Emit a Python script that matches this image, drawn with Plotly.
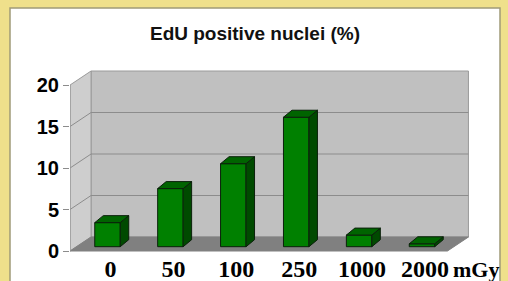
import plotly.graph_objects as go

# ---- data ----
categories = ["0", "50", "100", "250", "1000", "2000"]
edu_positive = [2.9, 7.0, 10.0, 15.6, 1.4, 0.35]
y_ticks = [0, 5, 10, 15, 20]
unit_label = "mGy"
title_text = "EdU positive nuclei (%)"

# ---- geometry / style (pixel calibration) ----
W, H = 508, 281
L, R, T, B = 70, 470, 68, 253          # plot area in px
PX0, PXU = 107.5, 62.9                   # px of category 0, px per category
PY0, PYU = 246.7, 8.3                    # px of value 0 (bar plane), px per unit
x_range = [(L - PX0) / PXU, (R - PX0) / PXU]
y_range = [-(B - PY0) / PYU, (PY0 - T) / PYU]

# plane offsets (in data units) relative to the bar plane
FX, FY = -6 / PXU, -4.3 / PYU            # front plane
BX, BY = 15 / PXU, 9.7 / PYU             # back plane
DX, DY = 8.5 / PXU, 7.0 / PYU            # bar depth
BW = 0.405                               # bar width
XL, XR = -0.5, len(categories) - 0.5
YMAX = y_ticks[-1]

idx = list(range(len(categories)))

fig = go.Figure()

# bar front faces
fig.add_trace(go.Bar(x=idx, y=edu_positive, width=BW,
                     marker=dict(color="#008000", line=dict(color="#0b200b", width=1)),
                     hoverinfo="skip"))

# bar top & side faces derived from the data
top_x, top_y, side_x, side_y = [], [], [], []
for i, v in zip(idx, edu_positive):
    x0, x1 = i - BW / 2, i + BW / 2
    top_x += [x0, x1, x1 + DX, x0 + DX, x0, None]
    top_y += [v, v, v + DY, v + DY, v, None]
    side_x += [x1, x1 + DX, x1 + DX, x1, x1, None]
    side_y += [0, DY, v + DY, v, 0, None]
fig.add_trace(go.Scatter(x=side_x, y=side_y, mode="lines", fill="toself",
                         fillcolor="#004a00", line=dict(color="#0b200b", width=1),
                         hoverinfo="skip"))
fig.add_trace(go.Scatter(x=top_x, y=top_y, mode="lines", fill="toself",
                         fillcolor="#006400", line=dict(color="#0b200b", width=1),
                         hoverinfo="skip"))
# dummy trace for the front-plane value axis
fig.add_trace(go.Scatter(x=[0], y=[0], yaxis="y2", mode="markers",
                         marker=dict(opacity=0), hoverinfo="skip"))

shapes = []
# white panel
def px2paper_x(px):
    return (px - L) / (R - L)
def px2paper_y(py):
    return (B - py) / (B - T)
shapes.append(dict(type="rect", xref="paper", yref="paper", layer="below",
                   x0=px2paper_x(10), x1=px2paper_x(500),
                   y0=px2paper_y(295), y1=px2paper_y(8),
                   fillcolor="white", line=dict(color="#a09a78", width=1.5)))
# back wall
shapes.append(dict(type="rect", xref="x", yref="y", layer="below",
                   x0=XL + BX, x1=XR + BX, y0=BY, y1=YMAX + BY,
                   fillcolor="#c0c0c0", line=dict(color="#9a9a9a", width=1)))
# left wall
shapes.append(dict(type="path", xref="x", yref="y", layer="below",
                   path=f"M {XL+FX},{FY} L {XL+BX},{BY} L {XL+BX},{YMAX+BY} L {XL+FX},{YMAX+FY} Z",
                   fillcolor="#cecece", line=dict(color="#9a9a9a", width=1)))
# floor
shapes.append(dict(type="path", xref="x", yref="y", layer="below",
                   path=f"M {XL+FX},{FY} L {XR+FX},{FY} L {XR+BX},{BY} L {XL+BX},{BY} Z",
                   fillcolor="#808080", line=dict(color="#808080", width=1)))
# gridlines
for v in y_ticks[1:-1]:
    shapes.append(dict(type="line", xref="x", yref="y", layer="below",
                       x0=XL + BX, x1=XR + BX, y0=v + BY, y1=v + BY,
                       line=dict(color="#8c8c8c", width=1)))
    shapes.append(dict(type="line", xref="x", yref="y", layer="below",
                       x0=XL + FX, x1=XL + BX, y0=v + FY, y1=v + BY,
                       line=dict(color="#8c8c8c", width=1)))
# front-left vertical edge
shapes.append(dict(type="line", xref="x", yref="y", layer="below",
                   x0=XL + FX, x1=XL + FX, y0=FY, y1=YMAX + FY,
                   line=dict(color="#9a9a9a", width=1)))

fig.update_layout(
    width=W, height=H, autosize=False,
    margin=dict(l=L, r=W - R, t=T, b=H - B, pad=0, autoexpand=False),
    paper_bgcolor="#efe08b", plot_bgcolor="rgba(0,0,0,0)",
    showlegend=False,
    shapes=shapes,
    title=dict(text=title_text, xref="container", yref="container",
               x=255 / W, y=1 - 33 / H, xanchor="center", yanchor="middle",
               font=dict(family="Liberation Sans, Arial", size=19, color="#111111",
                         weight="bold")),
    xaxis=dict(range=x_range, tickmode="array", tickvals=idx, ticktext=categories,
               showgrid=False, zeroline=False, showline=False, ticks="",
               automargin=False,
               ticklabelshift=3, ticklabelstandoff=-1,
               tickfont=dict(family="Liberation Serif, Times New Roman", size=24,
                             color="#000000", weight="bold")),
    yaxis=dict(range=y_range, visible=False, showgrid=False, zeroline=False,
               automargin=False),
    yaxis2=dict(range=[y_range[0] - FY, y_range[1] - FY], overlaying="y", anchor="x",
                side="left", tickmode="array", tickvals=y_ticks,
                ticks="outside", ticklen=6, tickcolor="#8c8c8c", tickwidth=1,
                showgrid=False, zeroline=False, showline=False, automargin=False,
                tickfont=dict(family="Liberation Sans, Arial", size=20,
                              color="#000000", weight="bold")),
    annotations=[dict(text=unit_label, xref="x", yref="paper",
                      x=len(categories) - 1 + 0.47, y=px2paper_y(269),
                      xanchor="left", yanchor="middle", showarrow=False,
                      borderpad=0,
                      font=dict(family="Liberation Serif, Times New Roman", size=22,
                                color="#000000", weight="bold"))],
)

fig.write_html("out.html", config={"displayModeBar": False},
               post_script="document.body.style.margin='0';"
                           "document.body.style.overflow='hidden';")
